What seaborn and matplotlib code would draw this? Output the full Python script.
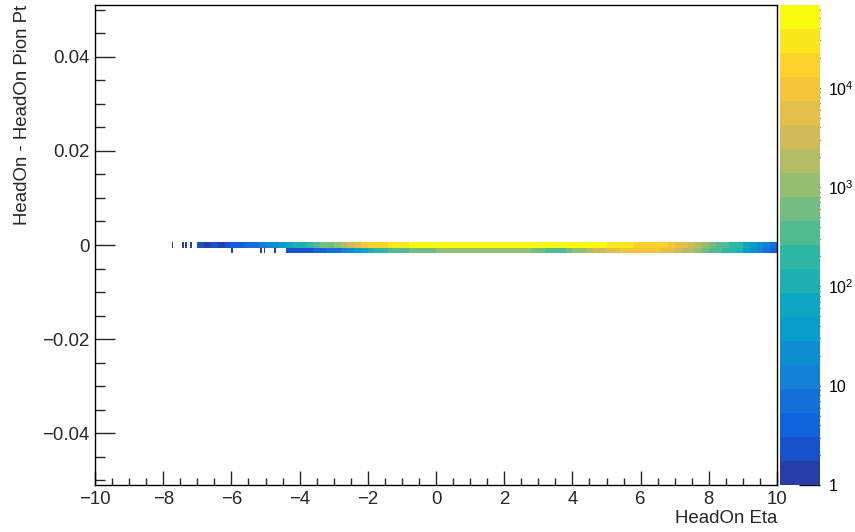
import numpy as np
import pandas as pd
import matplotlib
matplotlib.use("Agg")
import matplotlib.pyplot as plt
import seaborn as sns
from matplotlib.colors import LogNorm, ListedColormap, LinearSegmentedColormap
from matplotlib.ticker import MultipleLocator, FixedLocator, FixedFormatter, FuncFormatter, LogLocator, NullFormatter
import matplotlib.cm as cm

# ---------------- data ----------------
# main body: 0.2-wide eta bins starting at -7.0
eta_start = -7.0
eta_step = 0.2
upper_counts = [
    2, 1, 2, 1, 3, 4, 5, 7, 9, 14,
    20, 28, 40, 60, 90, 140, 210, 320, 480, 750,
    1200, 2200, 4000, 7000, 10000, 14000, 17000, 20000, 25000, 30000,
    35000, 39000, 42000, 45000, 47000, 49000, 50000, 51000, 52000, 53000,
    53000, 54000, 54000, 55000, 55000, 55000, 54000, 54000, 53000, 53000,
    52000, 51000, 50000, 49000, 48000, 47000, 46000, 45000, 43000, 41000,
    38000, 33000, 28000, 24000, 21000, 19000, 17000, 15000, 13000, 10000,
    6500, 4500, 2500, 1700, 1200, 700, 450, 330, 250, 150,
    50, 30, 18, 10, 6,
]
lower_counts = [
    0, 0, 0, 0, 0, 0, 0, 0, 0, 0,
    0, 0, 0, 2, 3, 2, 3, 4, 4, 6,
    9, 14, 25, 45, 80, 130, 180, 240, 300, 380,
    450, 520, 600, 680, 760, 850, 950, 1000, 1050, 1100,
    1100, 1150, 1150, 1100, 1100, 1050, 1000, 950, 850, 700,
    550, 450, 420, 450, 600, 900, 1300, 1800, 2800, 4000,
    5500, 7000, 8500, 9500, 10000, 10000, 9500, 8500, 7000, 5000,
    3200, 2200, 1400, 900, 600, 420, 320, 250, 180, 120,
    40, 25, 15, 8, 5,
]
# isolated single entries in the far tail (fine binning)
upper_tail_eta = [-7.75, -7.41, -7.31, -7.19]
lower_tail_eta = [-5.96, -5.11, -5.01, -4.75]
tail_count = 1

row_upper = 0.0
row_lower = -0.00112

x_ticks = [-10, -8, -6, -4, -2, 0, 2, 4, 6, 8, 10]
y_ticks = [-0.04, -0.02, 0.0, 0.02, 0.04]
z_ticks = [1, 10, 100, 1000, 10000]
z_labels = ["1", "10", r"$\mathregular{10^{2}}$", r"$\mathregular{10^{3}}$", r"$\mathregular{10^{4}}$"]
zmax = 68000

# ---------------- frames ----------------
n_main = len(upper_counts)
centers = eta_start + eta_step * (np.arange(n_main) + 0.5)
df_main = pd.DataFrame({
    "eta": np.concatenate([centers, centers]),
    "dpt": np.concatenate([np.full(n_main, row_upper), np.full(n_main, row_lower)]),
    "count": np.concatenate([upper_counts, lower_counts]),
})
df_main = df_main[df_main["count"] > 0]

df_tail = pd.DataFrame({
    "eta": upper_tail_eta + lower_tail_eta,
    "dpt": [row_upper] * len(upper_tail_eta) + [row_lower] * len(lower_tail_eta),
    "count": [tail_count] * (len(upper_tail_eta) + len(lower_tail_eta)),
})

x_edges_main = eta_start + eta_step * np.arange(n_main + 1)
x_edges_tail = np.arange(-7.9, -4.6 + 1e-9, 0.05)
y_edges = np.linspace(-0.051, 0.051, 92)

# ---------------- style ----------------
sns.set_style("white")
plt.rcParams["font.family"] = ["Liberation Sans", "DejaVu Sans"]
plt.rcParams["mathtext.default"] = "regular"
FS = 13.4

# ROOT kBird palette, 20 contour bands
stops = [0.0, 0.125, 0.25, 0.375, 0.5, 0.625, 0.75, 0.875, 1.0]
red = [0.2082, 0.0592, 0.0780, 0.0232, 0.1802, 0.5301, 0.8186, 0.9956, 0.9764]
green = [0.1664, 0.3599, 0.5041, 0.6419, 0.7178, 0.7492, 0.7328, 0.7862, 0.9832]
blue = [0.5293, 0.8684, 0.8385, 0.7914, 0.6425, 0.4662, 0.3499, 0.1968, 0.0539]
bird = LinearSegmentedColormap.from_list("bird", list(zip(stops, zip(red, green, blue))), N=255)
ncont = 20
band_cols = [bird(int((i + 0.99) * 255 / ncont) / 254.0) for i in range(ncont)]
cmap = ListedColormap(band_cols)
norm = LogNorm(vmin=1, vmax=zmax)

fig = plt.figure(figsize=(8.55, 5.32), dpi=100)
W, H = 855.0, 532.0
ax = fig.add_axes([95 / W, 47 / H, 682 / W, 480 / H])
cax = fig.add_axes([780 / W, 47 / H, 40 / W, 480 / H])

sns.histplot(data=df_main, x="eta", y="dpt", weights="count",
             bins=(x_edges_main, y_edges), cmap=cmap, ax=ax, cbar=False)
sns.histplot(data=df_tail, x="eta", y="dpt", weights="count",
             bins=(x_edges_tail, y_edges), cmap=cmap, ax=ax, cbar=False)
for coll in ax.collections:
    coll.set_norm(LogNorm(vmin=1, vmax=zmax))
    coll.set_cmap(cmap)

ax.set_xlim(-10, 10)
ax.set_ylim(-0.051, 0.051)
ax.set_facecolor("white")
for s in ax.spines.values():
    s.set_visible(True)
    s.set_color("black")
    s.set_linewidth(1.0)

ax.xaxis.set_major_locator(FixedLocator(x_ticks))
ax.xaxis.set_minor_locator(MultipleLocator(0.5))
ax.yaxis.set_major_locator(FixedLocator(y_ticks))
ax.yaxis.set_minor_locator(MultipleLocator(0.005))
ax.xaxis.set_major_formatter(FuncFormatter(lambda v, p: f"{v:g}".replace("-", "\u2212")))
ax.yaxis.set_major_formatter(FuncFormatter(lambda v, p: ("0" if abs(v) < 1e-12 else f"{v:g}").replace("-", "\u2212")))

ax.tick_params(axis="x", which="major", direction="in", length=10, width=1, labelsize=FS, pad=4,
               bottom=True, top=False)
ax.tick_params(axis="x", which="minor", direction="in", length=5, width=1, bottom=True, top=False)
ax.tick_params(axis="y", which="major", direction="in", length=14.5, width=1, labelsize=FS, pad=4,
               left=True, right=False)
ax.tick_params(axis="y", which="minor", direction="in", length=7.5, width=1, left=True, right=False)

ax.set_xlabel("HeadOn Eta", fontsize=FS, loc="right")
ax.xaxis.set_label_coords(1.0, -0.052)
ax.set_ylabel("HeadOn - HeadOn Pion Pt", fontsize=FS, loc="top")
ax.yaxis.set_label_coords(-0.094, 1.0)

# colour bar
sm = cm.ScalarMappable(norm=norm, cmap=cmap)
cb = fig.colorbar(sm, cax=cax)
cb.outline.set_visible(False)
cax.yaxis.set_ticks_position("right")
cax.yaxis.set_major_locator(FixedLocator(z_ticks))
cax.yaxis.set_major_formatter(FixedFormatter(z_labels))
cax.yaxis.set_minor_locator(LogLocator(base=10, subs=np.arange(2, 10)))
cax.yaxis.set_minor_formatter(NullFormatter())
cax.tick_params(which="major", direction="in", length=15, width=1, labelsize=11.5, pad=6, colors="black")
cax.tick_params(which="minor", direction="in", length=8, width=1)

fig.savefig("out.png", dpi=100)
